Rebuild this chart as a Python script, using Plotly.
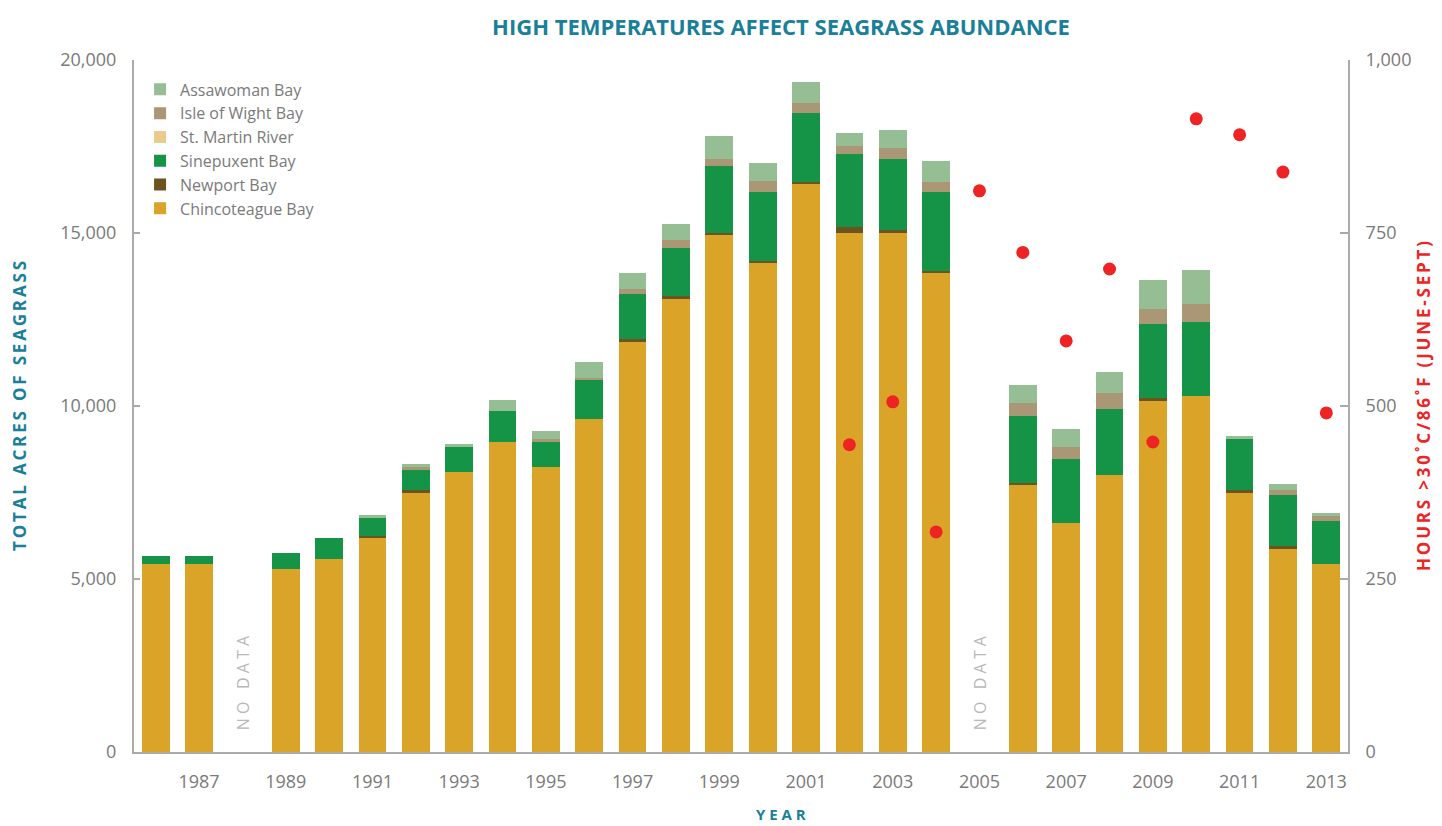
import plotly.graph_objects as go

years = [1986, 1987, 1989, 1990, 1991, 1992, 1993, 1994, 1995, 1996, 1997, 1998, 1999,
         2000, 2001, 2002, 2003, 2004, 2006, 2007, 2008, 2009, 2010, 2011, 2012, 2013]

chincoteague = [5430, 5430, 5290, 5580, 6185, 7490, 8090, 8960, 8240, 9620, 11850, 13090, 14940,
                14130, 16420, 15000, 15000, 13840, 7720, 6620, 8010, 10150, 10290, 7490, 5870, 5430]
newport = [0, 0, 0, 0, 60, 85, 0, 0, 0, 0, 85, 85, 60,
           60, 60, 170, 90, 60, 60, 0, 0, 85, 0, 85, 85, 0]
sinepuxent = [235, 235, 460, 605, 520, 575, 725, 895, 720, 1130, 1300, 1390, 1935,
              1995, 1995, 2110, 2050, 2285, 1935, 1850, 1905, 2135, 2140, 1475, 1475, 1245]
st_martin = [0] * 26
isle_of_wight = [0, 0, 0, 0, 0, 85, 0, 0, 85, 60, 145, 230, 200,
                 320, 290, 230, 320, 290, 375, 345, 465, 435, 520, 0, 145, 145]
assawoman = [0, 0, 0, 0, 85, 85, 85, 320, 230, 460, 460, 460, 665,
             520, 605, 375, 520, 605, 520, 520, 605, 840, 985, 85, 175, 85]

hour_years = [2002, 2003, 2004, 2005, 2006, 2007, 2008, 2009, 2010, 2011, 2012, 2013]
hours = [444, 506, 318, 811, 722, 594, 698, 448, 915, 892, 838, 490]

no_data_years = [1988, 2005]
tick_years = list(range(1987, 2014, 2))

series = [
    ("Chincoteague Bay", chincoteague, "#d9a427"),
    ("Newport Bay", newport, "#6b5420"),
    ("Sinepuxent Bay", sinepuxent, "#159447"),
    ("St. Martin River", st_martin, "#eacb8c"),
    ("Isle of Wight Bay", isle_of_wight, "#aa9775"),
    ("Assawoman Bay", assawoman, "#95be95"),
]

TEAL = "#1a8099"
GRAY_TXT = "#7a7a7a"
AXIS = "#ababab"
FONT = "Open Sans"
THIN = "\u2009"


def spaced(s):
    return THIN.join(s)


# the page body has an 8px margin, so the figure is sized to fit the visible window
W, H = 1434, 818
OFF = 8
PLOT_W, PLOT_H = 1214, 692

fig = go.Figure()
for name, vals, col in series:
    fig.add_trace(go.Bar(x=years, y=vals, name=name, marker=dict(color=col, line=dict(width=0)),
                         width=0.64))

fig.add_trace(go.Scatter(x=hour_years, y=hours, mode="markers", yaxis="y2", showlegend=False,
                         marker=dict(color="#ee2424", size=13, line=dict(width=0)),
                         name="Hours"))

for yr in no_data_years:
    fig.add_annotation(x=yr, y=2000, xref="x", yref="y", text="N O   D A T A", showarrow=False,
                       textangle=-90, font=dict(family=FONT, size=16, color="#b8b8b8"))

# x-axis title, centred under the chart title rather than the plot area
fig.add_annotation(x=(781 - 134) / PLOT_W, xref="paper", y=(752 - 814) / PLOT_H, yref="paper",
                   text="<b>Y E A R</b>", showarrow=False, xanchor="center", yanchor="middle",
                   font=dict(family=FONT, size=15, color=TEAL))

fig.update_layout(
    width=W, height=H,
    barmode="stack",
    plot_bgcolor="white", paper_bgcolor="white",
    margin=dict(l=134 - OFF, r=94, t=60 - OFF, b=74, autoexpand=False),
    font=dict(family=FONT, color=GRAY_TXT),
    title=dict(text="<b>HIGH TEMPERATURES AFFECT SEAGRASS ABUNDANCE</b>",
               x=(781 - OFF) / W, xanchor="center", xref="container",
               y=1 - (27 - OFF) / H, yanchor="middle", yref="container",
               font=dict(family=FONT, size=22, color=TEAL)),
    legend=dict(x=0.005, xref="paper", y=0.982, yref="paper",
                xanchor="left", yanchor="top", traceorder="reversed",
                font=dict(family=FONT, size=16, color=GRAY_TXT),
                itemsizing="constant", tracegroupgap=0, bgcolor="rgba(0,0,0,0)"),
    xaxis=dict(range=[1985.5, 2013.5], tickvals=tick_years, ticktext=[str(t) for t in tick_years],
               showgrid=False, zeroline=False, showline=True, linecolor=AXIS, linewidth=2,
               ticks="", tickfont=dict(size=18, color=GRAY_TXT), ticklabelstandoff=12),
    yaxis=dict(range=[0, 20000], tickvals=[0, 5000, 10000, 15000, 20000], tickformat=",",
               showgrid=False, zeroline=False, showline=True, linecolor=AXIS, linewidth=2,
               ticks="inside", ticklen=6, tickcolor=AXIS, tickwidth=2,
               tickfont=dict(size=18, color=GRAY_TXT), ticklabelstandoff=12,
               title=dict(text="<b>" + spaced("TOTAL ACRES OF SEAGRASS") + "</b>",
                          font=dict(size=17, color=TEAL), standoff=30)),
    yaxis2=dict(range=[0, 1000], tickvals=[0, 250, 500, 750, 1000], tickformat=",",
                overlaying="y", side="right", showgrid=False, zeroline=False, showline=True,
                linecolor=AXIS, linewidth=2, ticks="inside", ticklen=8, tickcolor=AXIS,
                tickwidth=2, tickfont=dict(size=18, color=GRAY_TXT), ticklabelstandoff=12,
                title=dict(text="<b>" + spaced("HOURS >30˚C/86˚F (JUNE-SEPT)") + "</b>",
                           font=dict(size=17, color="#ee2424"), standoff=8)),
)

fig.write_html("out.html")
